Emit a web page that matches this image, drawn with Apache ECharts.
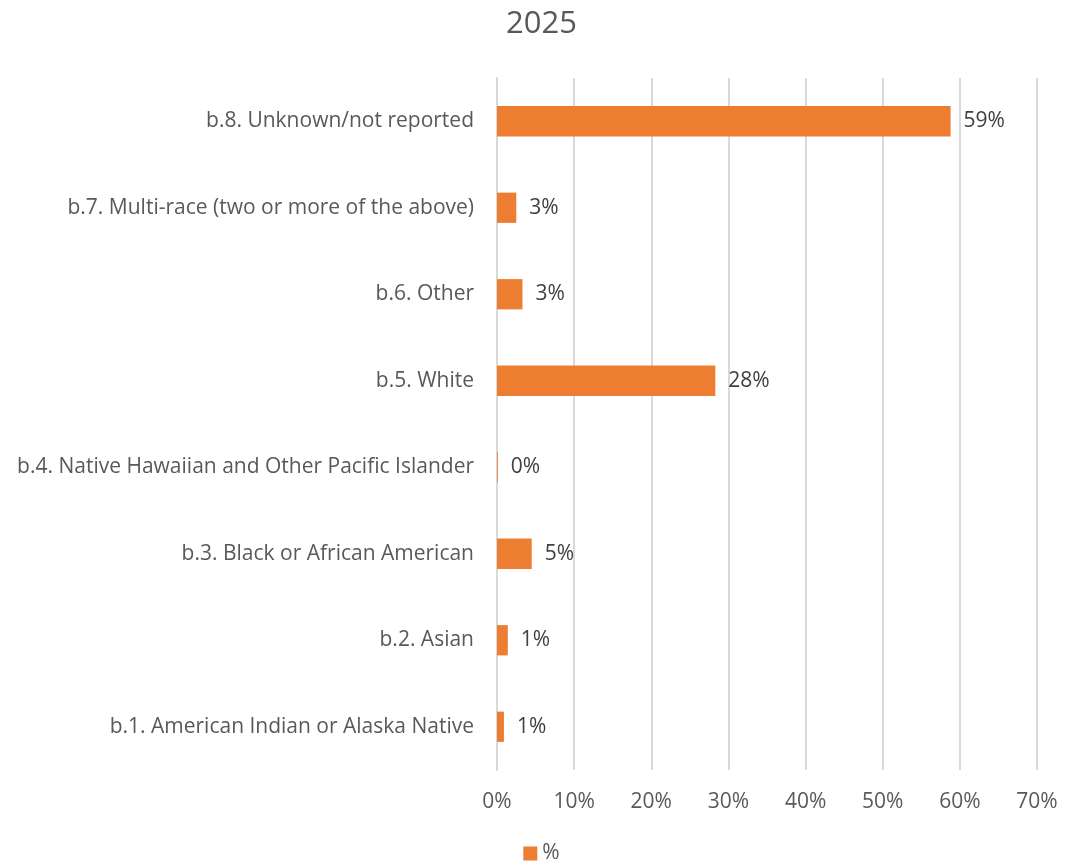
<!DOCTYPE html>
<html>
<head>
<meta charset="utf-8">
<title>2025</title>
<script src="https://cdn.jsdelivr.net/npm/echarts@6/dist/echarts.min.js"></script>
<style>
  html, body { margin: 0; padding: 0; background: #fff; }
  #chart { width: 1083px; height: 864px; }
</style>
</head>
<body>
<div id="chart"></div>
<script>
// Race categories, listed bottom to top as they appear on the axis
const categories = [
  'b.1. American Indian or Alaska Native',
  'b.2. Asian',
  'b.3. Black or African American',
  'b.4. Native Hawaiian and Other Pacific Islander',
  'b.5. White',
  'b.6. Other',
  'b.7. Multi-race (two or more of the above)',
  'b.8. Unknown/not reported'
];

// Share of each category, in percent
const percentValues = [0.9, 1.4, 4.5, 0.1, 28.3, 3.3, 2.5, 58.8];

const seriesName = '%';
const titleText = '2025';

const FONT = '"Open Sans", "Noto Sans", sans-serif';

const chart = echarts.init(document.getElementById('chart'), null, { renderer: 'canvas' });

chart.setOption({
  animation: false,
  backgroundColor: '#ffffff',
  title: {
    text: titleText,
    left: 'center',
    top: 4,
    textStyle: { fontFamily: FONT, fontSize: 31, fontWeight: 'normal', color: '#595959' }
  },
  legend: {
    data: [seriesName],
    bottom: -5,
    left: 'center',
    itemWidth: 14,
    itemHeight: 14,
    itemGap: 5,
    icon: 'rect',
    textStyle: { fontFamily: FONT, fontSize: 21, color: '#595959' }
  },
  grid: {
    left: 497,
    right: 46,
    top: 78,
    bottom: 94,
    containLabel: false
  },
  xAxis: {
    type: 'value',
    min: 0,
    max: 70,
    interval: 10,
    axisLine: { show: false },
    axisTick: { show: false },
    splitLine: { show: true, lineStyle: { color: '#d9d9d9', width: 2 } },
    axisLabel: {
      margin: 22,
      fontFamily: FONT,
      fontSize: 21,
      color: '#595959',
      formatter: v => v + '%'
    }
  },
  yAxis: {
    type: 'category',
    data: categories,
    axisLine: { show: true, lineStyle: { color: '#d9d9d9', width: 2 } },
    axisTick: { show: false },
    axisLabel: {
      margin: 23,
      fontFamily: FONT,
      fontSize: 21,
      color: '#595959'
    }
  },
  series: [{
    name: seriesName,
    type: 'bar',
    data: percentValues,
    barCategoryGap: '65%',
    itemStyle: { color: '#ED7D31' },
    label: {
      show: true,
      position: 'right',
      distance: 13,
      fontFamily: FONT,
      fontSize: 21,
      color: '#404040',
      formatter: p => Math.round(p.value) + '%'
    }
  }]
});
</script>
</body>
</html>
